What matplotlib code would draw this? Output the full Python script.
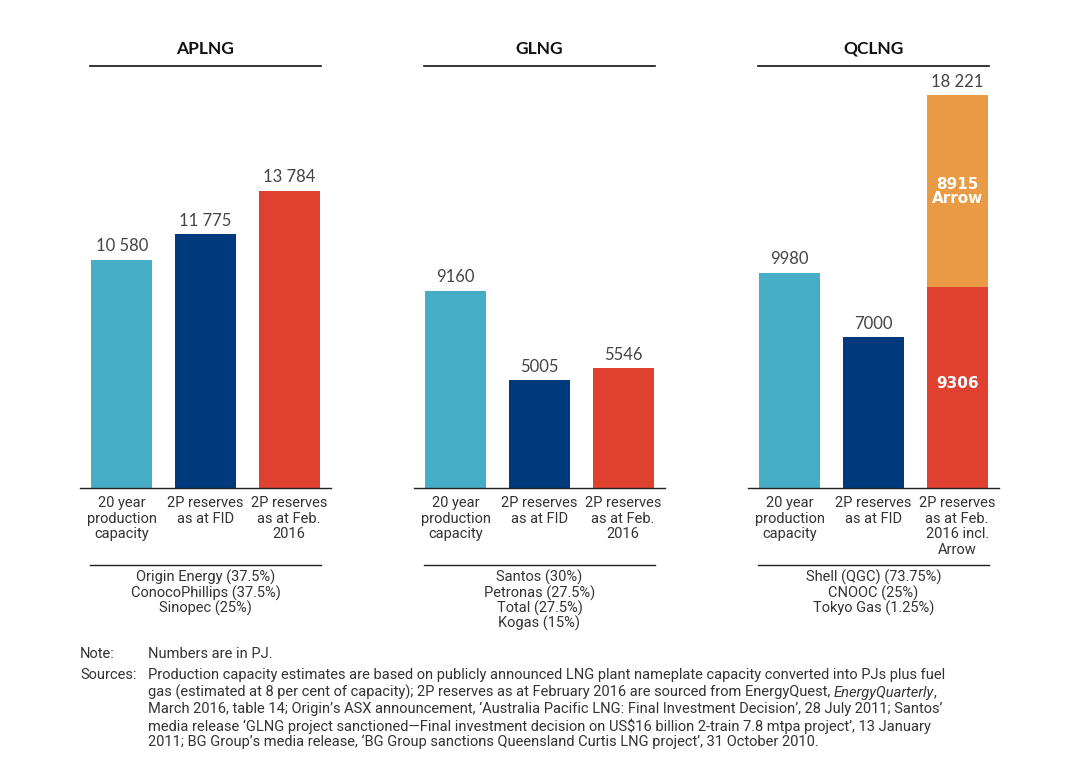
import matplotlib
matplotlib.use("Agg")
import matplotlib.pyplot as plt

projects = ["APLNG", "GLNG", "QCLNG"]
categories = [
    ["20 year\nproduction\ncapacity", "2P reserves\nas at FID", "2P reserves\nas at Feb.\n2016"],
    ["20 year\nproduction\ncapacity", "2P reserves\nas at FID", "2P reserves\nas at Feb.\n2016"],
    ["20 year\nproduction\ncapacity", "2P reserves\nas at FID", "2P reserves\nas at Feb.\n2016 incl.\nArrow"],
]
capacity = [10580, 9160, 9980]
reserves_fid = [11775, 5005, 7000]
reserves_2016 = [13784, 5546, 9306]
arrow_extra = [0, 0, 8915]
owners = [
    "Origin Energy (37.5%)\nConocoPhillips (37.5%)\nSinopec (25%)",
    "Santos (30%)\nPetronas (27.5%)\nTotal (27.5%)\nKogas (15%)",
    "Shell (QGC) (73.75%)\nCNOOC (25%)\nTokyo Gas (1.25%)",
]

C_TEAL = "#45AEC6"
C_NAVY = "#003A7D"
C_RED = "#E0402F"
C_ORANGE = "#E99A42"
TXT = "#333333"

W, H = 1083, 765
fig = plt.figure(figsize=(W / 100, H / 100), dpi=100)

NARROW = ["Roboto", "DejaVu Sans"]
LIGHT = ["Lato", "DejaVu Sans"]
BOLD = ["DejaVu Sans"]


def fx(x):
    return x / W


def fy(y):
    return 1 - y / H


def fmt(v):
    return f"{v:,}".replace(",", " ") if v >= 10000 else str(v)


base_px = 488
top_px = 88
scale = 0.02155  # px per unit
ymax = (base_px - top_px) / scale
lefts = [80, 414, 748]
axw = 251

for i, p in enumerate(projects):
    ax = fig.add_axes([fx(lefts[i]), fy(base_px), axw / W, (base_px - top_px) / H])
    ax.set_xlim(-0.5, 2.5)
    ax.set_ylim(0, ymax)
    ax.axis("off")
    bw = 0.73
    vals = [capacity[i], reserves_fid[i], reserves_2016[i]]
    cols = [C_TEAL, C_NAVY, C_RED]
    for j, (v, c) in enumerate(zip(vals, cols)):
        ax.bar(j, v, width=bw, color=c, linewidth=0)
    if arrow_extra[i]:
        ax.bar(2, arrow_extra[i], bottom=reserves_2016[i], width=bw, color=C_ORANGE, linewidth=0)
        ax.text(2, reserves_2016[i] + arrow_extra[i] / 2, f"{arrow_extra[i]}\nArrow",
                ha="center", va="center", color="white", fontsize=11, fontweight="bold",
                family=BOLD, linespacing=0.95)
        ax.text(2, reserves_2016[i] / 2 + 4 / scale, f"{reserves_2016[i]}", ha="center", va="center",
                color="white", fontsize=11, fontweight="bold", family=BOLD)
    tops = [vals[0], vals[1], vals[2] + arrow_extra[i]]
    for j, t in enumerate(tops):
        ax.annotate(fmt(t), (j, t), xytext=(0, 4), textcoords="offset points",
                    ha="center", va="bottom", fontsize=12, color="#444444",
                    family=LIGHT, fontweight="normal")
    # baseline
    ax.plot([-0.5, 2.5], [0, 0], color="#222222", lw=1.0, clip_on=False)
    # title & underline
    x0, x1 = -bw / 2 - 0.01, 2 + bw / 2 + 0.01
    ytitle_line = (base_px - 66) / scale
    ax.plot([x0, x1], [ytitle_line, ytitle_line], color="#111111", lw=1.2, clip_on=False)
    ax.text(1, (base_px - 49) / scale, p, ha="center", va="center", fontsize=12.5,
            fontweight="bold", color="#111111", family=LIGHT)
    # category labels
    for j, lab in enumerate(categories[i]):
        ax.text(j, -8 / scale, lab,
                ha="center", va="top", fontsize=10.5, color=TXT, family=NARROW,
                linespacing=1.15)
    # owners line & text
    yo = -(565 - base_px) / scale
    ax.plot([x0, x1], [yo, yo], color="#222222", lw=1.0, clip_on=False)
    ax.text(1, -(570 - base_px) / scale, owners[i], ha="center", va="top", fontsize=10.5,
            color=TXT, family=NARROW, linespacing=1.0)

# Notes
ov = fig.add_axes([0, 0, 1, 1])
ov.axis("off")
ov.set_xlim(0, W)
ov.set_ylim(H, 0)
fs = 10.5
ov.text(80, 654, "Note:", ha="left", va="center", fontsize=fs, color=TXT, family=NARROW)
ov.text(148, 654, "Numbers are in PJ.", ha="left", va="center", fontsize=fs, color=TXT, family=NARROW)
ov.text(80, 675, "Sources:", ha="left", va="center", fontsize=fs, color=TXT, family=NARROW)
lines = [
    [("Production capacity estimates are based on publicly announced LNG plant nameplate capacity converted into PJs plus fuel", "normal")],
    [("gas (estimated at 8 per cent of capacity); 2P reserves as at February 2016 are sourced from EnergyQuest, ", "normal"),
     ("EnergyQuarterly", "italic"), (",", "normal")],
    [("March 2016, table 14; Origin\u2019s ASX announcement, \u2018Australia Pacific LNG: Final Investment Decision\u2019, 28 July 2011; Santos\u2019", "normal")],
    [("media release \u2018GLNG project sanctioned\u2014Final investment decision on US$16 billion 2-train 7.8 mtpa project\u2019, 13 January", "normal")],
    [("2011; BG Group\u2019s media release, \u2018BG Group sanctions Queensland Curtis LNG project\u2019, 31 October 2010.", "normal")],
]
ys = [675, 692, 709, 726, 742]
for y, parts in zip(ys, lines):
    prev = None
    for s, style in parts:
        if prev is None:
            prev = ov.text(148, y, s, ha="left", va="center", fontsize=fs, color=TXT,
                           family=NARROW, style=style)
        else:
            prev = ov.annotate(s, xycoords=prev, xy=(1, 0), va="bottom", ha="left",
                               fontsize=fs, color=TXT, family=NARROW, style=style)

fig.savefig("out.png", dpi=100)
